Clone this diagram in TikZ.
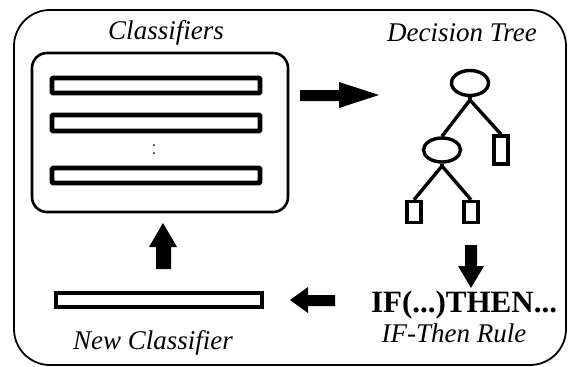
\documentclass[tikz,border=0pt]{standalone}
\usepackage{fontspec}
\setmainfont{Liberation Serif}
\usetikzlibrary{shapes.geometric}
\begin{document}
\begin{tikzpicture}[x=1pt,y=-1pt,
  bar/.style={draw,line width=4.6pt,fill=white,rounded corners=1pt},
  tnode/.style={draw,ellipse,line width=3.4pt,inner sep=0pt},
  leaf/.style={draw,rectangle,line width=3.4pt,inner sep=0pt,minimum width=14pt},
  tedge/.style={line width=3.4pt},
  blk/.style={fill=black},
  lbl/.style={font=\fontsize{27}{31}\selectfont\itshape,inner sep=0pt}]
\useasboundingbox (0,0) rectangle (568,367);
\fill[white] (0,0) rectangle (568,367);
% outer frame
\draw[line width=1.8pt,rounded corners=36pt] (14,10) rectangle (566,365);
% inner classifiers box
\draw[line width=2.6pt,rounded corners=15pt] (32,53) rectangle (288,212);
\draw[bar] (52,78) rectangle (260,93);
\draw[bar] (52,115) rectangle (260,131);
\draw[bar] (52,168) rectangle (260,183);
\fill (154,145) circle (1pt);
\fill (154,153) circle (1pt);
% new classifier bar
\draw[line width=3.6pt,fill=white] (56,293) rectangle (262,307);
% labels
\node[lbl] (tcls) at (166,33) {Classifiers};
\node[lbl] (tdt) at (462,33) {Decision Tree};
\node[lbl] (tnew) at (153,343) {New Classifier};
\node[lbl] (trule) at (454,333) {IF-Then Rule};
\node[font=\fontsize{31}{35}\selectfont\bfseries,inner sep=0pt] (rule) at (464,305) {IF(...)THEN...};
% tree
\node[tnode,minimum width=37pt,minimum height=25pt] (root) at (470,83) {};
\node[tnode,minimum width=37pt,minimum height=24pt] (n1) at (442,150) {};
\node[leaf,minimum height=28pt] (lr) at (501,150) {};
\node[leaf,minimum height=21pt] (l1) at (414,212) {};
\node[leaf,minimum height=21pt] (l2) at (471,212) {};
\coordinate (rj) at (470,100);
\coordinate (nj) at (442,166);
\draw[tedge] (rj) -- (n1.north);
\draw[tedge] (rj) -- (lr.north);
\draw[tedge] (root.south) -- (rj);
\draw[tedge] (nj) -- (l1.north);
\draw[tedge] (nj) -- (l2.north);
\draw[tedge] (n1.south) -- (nj);
% block arrows
\fill[blk] (300,90) -- (339,90) -- (339,82) -- (379,95) -- (339,108) -- (339,101) -- (300,101) -- cycle;
\fill[blk] (465,245) -- (477,245) -- (477,266) -- (484,266) -- (471,288) -- (458,266) -- (465,266) -- cycle;
\fill[blk] (335,295) -- (308,295) -- (308,287) -- (290,300) -- (308,313) -- (308,306) -- (335,306) -- cycle;
\fill[blk] (156,269) -- (171,269) -- (171,247) -- (177,247) -- (163,223) -- (149,247) -- (156,247) -- cycle;
\end{tikzpicture}
\end{document}
